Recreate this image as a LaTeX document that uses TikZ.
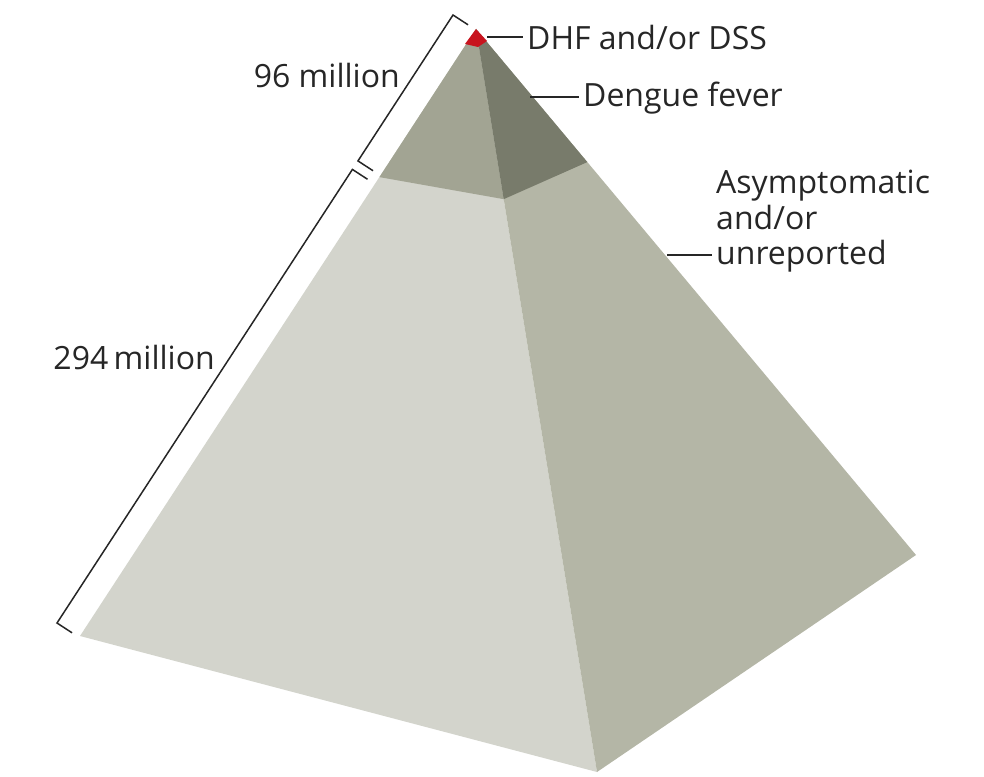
\documentclass[tikz,border=0pt]{standalone}
\usepackage{fontspec}
\setmainfont{Open Sans}
\usetikzlibrary{positioning,calc}
\definecolor{tipred}{HTML}{C8141E}
\definecolor{topleft}{HTML}{A2A493}
\definecolor{topright}{HTML}{787B6B}
\definecolor{baseleft}{HTML}{D3D4CC}
\definecolor{baseright}{HTML}{B4B6A6}
\definecolor{ink}{HTML}{262626}
\tikzset{
  face/.style={fill=#1, draw=none},
  tag/.style={font=\fontsize{32}{35.5}\selectfont, text=ink, inner ysep=0pt, inner xsep=4pt},
  leader/.style={draw=ink, line width=1.6pt},
  bracket/.style={draw=ink, line width=1.5pt}
}

\begin{document}
\begin{tikzpicture}[x=1pt,y=-1pt]
  \useasboundingbox (0,0) rectangle (984,776);

  \coordinate (apex) at (476,29);
  \coordinate (L) at (80,636);
  \coordinate (F) at (597,772);
  \coordinate (R) at (916,555);
  \coordinate (bl) at ($(apex)!0.244!(L)$);
  \coordinate (bm) at ($(apex)!0.229!(F)$);
  \coordinate (br) at ($(apex)!0.253!(R)$);
  \coordinate (rl) at (465,44);
  \coordinate (rm) at (478,47);
  \coordinate (rr) at (487,41);

  \fill[face=baseleft] (apex) -- (L) -- (F) -- cycle;
  \fill[face=baseright] (apex) -- (F) -- (R) -- cycle;
  \fill[face=topleft] (apex) -- (bl) -- (bm) -- cycle;
  \fill[face=topright] (apex) -- (bm) -- (br) -- cycle;
  \fill[face=tipred] (apex) -- (rl) -- (rm) -- (rr) -- cycle;

  \coordinate (btop) at (453,15);
  \coordinate (bbot) at (57,623);
  \coordinate (bmA) at ($(btop)!0.240!(bbot)$);
  \coordinate (bmB) at ($(btop)!0.254!(bbot)$);
  \draw[bracket] ($(btop)!18pt!90:(bbot)$) -- (btop) -- (bmA) -- ($(bmA)!18pt!90:(bbot)$);
  \draw[bracket] ($(bmB)!18pt!90:(bbot)$) -- (bmB) -- (bbot) -- ($(bbot)!18pt!-90:(btop)$);

  \node[tag, anchor=west] (dhf) at (523,37) {DHF and/or DSS};
  \node[tag, anchor=west] (fever) at (579,98) {Dengue fever};
  \node[tag, anchor=north west, align=left] (asym) at (712,170) {Asymptomatic\\and/or\\unreported};
  \node[tag, anchor=east] (small) at (404,75) {96 million};
  \node[tag, anchor=east] (large) at (219,357) {294\,million};

  \coordinate (tipmark) at (487,37);
  \coordinate (fevermark) at (530,97);
  \coordinate (asymmark) at (667,255);
  \draw[leader] (tipmark) -- (tipmark -| dhf.west);
  \draw[leader] (fevermark) -- (fevermark -| fever.west);
  \draw[leader] (asymmark) -- (asymmark -| asym.west);
\end{tikzpicture}
\end{document}
